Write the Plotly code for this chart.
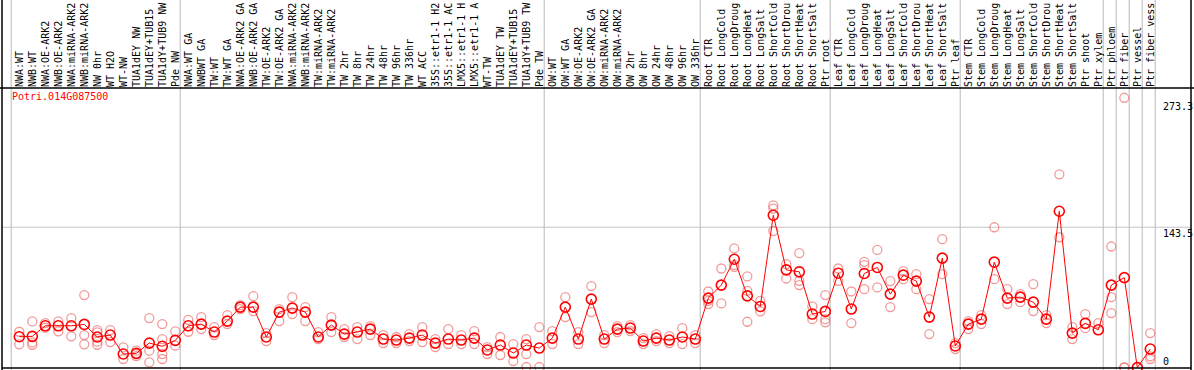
import plotly.graph_objects as go

labels = [
    "NWA:WT", "NWB:WT", "NWA:OE-ARK2", "NWB:OE-ARK2", "NWA:miRNA-ARK2", "NWB:miRNA-ARK2",
    "NW 0hr", "WT H2O", "WT-NW", "TUA1dEY NW", "TUA1dEY+TUB15", "TUA1dY+TUB9 NW", "Pde NW",
    "NWA:WT GA", "NWBWT GA", "TW:WT", "TW:WT GA", "NWA:OE-ARK2 GA", "NWB:OE-ARK2 GA",
    "TW:OE-ARK2", "TW:OE-ARK2 GA", "NWA:miRNA-ARK2", "NWB:miRNA-ARK2", "TW:miRNA-ARK2",
    "TW:miRNA-ARK2", "TW 2hr", "TW 8hr", "TW 24hr", "TW 48hr", "TW 96hr", "TW 336hr", "WT ACC",
    "35S::etr1-1 H2", "35S::etr1-1 AC", "LMX5::etr1-1 H", "LMX5::etr1-1 A", "WT-TW",
    "TUA1dEY TW", "TUA1dEY+TUB15", "TUA1dY+TUB9 TW", "Pde TW",
    "OW:WT", "OW:WT GA", "OW:OE-ARK2", "OW:OE-ARK2 GA", "OW:miRNA-ARK2", "OW:miRNA-ARK2",
    "OW 2hr", "OW 8hr", "OW 24hr", "OW 48hr", "OW 96hr", "OW 336hr",
    "Root CTR", "Root LongCold", "Root LongDroug", "Root LongHeat", "Root LongSalt",
    "Root ShortCold", "Root ShortDrou", "Root ShortHeat", "Root ShortSalt", "Ptr root",
    "Leaf CTR", "Leaf LongCold", "Leaf LongDroug", "Leaf LongHeat", "Leaf LongSalt",
    "Leaf ShortCold", "Leaf ShortDrou", "Leaf ShortHeat", "Leaf ShortSalt", "Ptr leaf",
    "Stem CTR", "Stem LongCold", "Stem LongDroug", "Stem LongHeat", "Stem LongSalt",
    "Stem ShortCold", "Stem ShortDrou", "Stem ShortHeat", "Stem ShortSalt", "Ptr shoot",
    "Ptr xylem", "Ptr phloem", "Ptr fiber", "Ptr vessel", "Ptr fiber vess",
]

group_sizes = [13, 28, 12, 10, 10, 11, 1, 1, 1, 1]

mean_values = [
    31.5, 31.9, 42.7, 42.7, 42.7, 44.1, 31.2, 33.2, 13.8, 14.5, 25.0, 21.7, 27.8,
    42.7, 44.4, 36.3, 47.5, 61.8, 61.8, 31.2, 56.7, 60.8, 56.7, 31.2, 43.4, 34.2, 36.3,
    39.3, 29.1, 28.1, 30.1, 33.2, 25.0, 29.1, 28.1, 30.1, 17.9, 23.0, 14.8, 23.0, 19.9,
    30.1, 61.8, 29.1, 70.0, 29.1, 39.3, 40.4, 27.1, 30.1, 28.1, 31.2, 29.1,
    71.0, 84.3, 110.8, 73.3, 62.5, 155.8, 99.9, 97.9, 54.7, 57.4,
    96.5, 59.8, 96.2, 102.4, 75.1, 94.5, 88.4, 51.6, 111.9, 22.0,
    44.4, 49.5, 107.8, 71.0, 72.0, 66.9, 49.5, 159.9, 35.2, 45.2, 38.6,
    84.3, 92.0, 0.0, 18.9,
]

rep_1 = [
    36.6, 47.2, 45.5, 47.2, 50.6, 74.1, 38.3, 38.3, 20.6, 17.2, 50.6, 44.4, 37.0,
    48.8, 51.6, 41.4, 53.6, 63.8, 73.0, 35.2, 59.8, 72.0, 61.8, 36.3, 51.6, 39.3, 41.4,
    42.4, 33.2, 31.2, 34.2, 41.4, 29.1, 39.3, 33.2, 37.3, 20.9, 31.2, 24.0, 29.1, 41.4,
    37.3, 72.0, 36.3, 83.3, 33.2, 42.4, 43.4, 30.1, 34.2, 32.2, 40.3, 33.2,
    77.8, 101.3, 121.8, 93.2, 68.2, 166.0, 105.7, 117.0, 62.5, 74.1,
    101.3, 77.8, 108.1, 120.3, 88.4, 98.6, 95.5, 70.0, 131.3, 25.0,
    47.5, 53.6, 143.5, 80.2, 75.1, 85.3, 53.6, 197.7, 41.4, 54.7, 45.5,
    123.8, 276.0, 0.0, 35.2,
]

rep_2 = [
    23.7, 25.7, 40.7, 37.0, 31.9, 33.2, 36.0, 26.0, 8.7, 13.8, 17.2, 29.1, 22.3,
    36.6, 39.3, 33.2, 44.4, 59.8, 57.7, 27.1, 47.5, 54.7, 47.5, 29.1, 36.3, 31.2, 29.1,
    33.2, 25.0, 25.0, 27.1, 26.0, 20.9, 24.0, 24.0, 24.0, 13.8, 12.8, 6.6, 13.8, 0.5,
    24.0, 51.6, 24.0, 56.7, 25.0, 36.3, 37.3, 24.0, 27.1, 25.0, 24.0, 25.0,
    68.2, 65.6, 105.0, 78.5, 57.4, 162.6, 91.1, 88.7, 49.5, 49.5,
    88.7, 45.5, 104.7, 81.9, 61.8, 90.4, 80.2, 34.2, 95.5, 18.9,
    39.3, 44.4, 90.4, 64.9, 66.9, 57.7, 45.5, 133.3, 29.1, 40.3, None,
    72.0, 0.0, None, 11.4,
]

rep_3 = [
    None, 23.3, None, None, None, 23.7, 26.4, None, None, 11.7, 5.3, 13.8, None,
    None, None, None, None, None, None, None, None, None, None, None, None, None, None,
    None, None, None, None, None, None, None, None, None, None, None, None, 0.5, None,
    None, None, None, None, None, None, None, None, None, None, None, None,
    64.9, None, 103.0, 46.8, None, 139.7, None, 84.3, None, 46.2,
    None, None, 80.2, None, None, None, None, None, None, None,
    None, None, None, None, None, None, None, None, None, None, None,
    55.7, 0.0, None, 8.7,
]

rep_4 = [None] * 88
rep_4[6] = 23.3
rep_4[11] = 8.7

gene_id = "Potri.014G087500"
right_labels = ["273.3", "143.5", "0"]
right_label_values = [273.3, 143.5, 0.0]

x = list(range(len(labels)))
MONO = "DejaVu Sans Mono"
REP_COLOR = "rgba(238,120,120,0.75)"

fig = go.Figure()
for rep in (rep_1, rep_2, rep_3, rep_4):
    fig.add_trace(go.Scatter(
        x=x, y=rep, mode="markers", showlegend=False, hoverinfo="skip",
        marker=dict(symbol="circle-open", size=9, color=REP_COLOR,
                    line=dict(width=1.3, color=REP_COLOR)),
        cliponaxis=False,
    ))
fig.add_trace(go.Scatter(
    x=x, y=mean_values, mode="lines+markers", showlegend=False,
    line=dict(color="#ff0000", width=1),
    marker=dict(symbol="circle-open", size=10, color="#ff0000",
                line=dict(width=1.6, color="#ff0000")),
    cliponaxis=False,
))

# group separators
shapes = []
pos = 0
bounds = [0]
for g in group_sizes:
    pos += g
    bounds.append(pos)
for b in bounds:
    shapes.append(dict(type="line", xref="x", yref="paper", x0=b - 0.62, x1=b - 0.62,
                       y0=-0.01, y1=1.32, line=dict(color="#c4c4c4", width=1.2), layer="below"))
# horizontal grid at mid value
shapes.append(dict(type="line", xref="paper", yref="y", x0=0, x1=1, y0=143.5, y1=143.5,
                   line=dict(color="#c4c4c4", width=1.2), layer="below"))
# frame lines
shapes.append(dict(type="line", xref="paper", yref="paper", x0=-0.01, x1=1.01, y0=1, y1=1,
                   line=dict(color="black", width=1.5)))
shapes.append(dict(type="line", xref="paper", yref="paper", x0=0, x1=0, y0=-0.01, y1=1.32,
                   line=dict(color="black", width=1.5)))
shapes.append(dict(type="line", xref="paper", yref="paper", x0=1, x1=1, y0=-0.01, y1=1.32,
                   line=dict(color="black", width=1.5)))
shapes.append(dict(type="line", xref="paper", yref="paper", x0=0, x1=1, y0=0, y1=0,
                   line=dict(color="black", width=1.5)))

annotations = [dict(text=gene_id, xref="paper", yref="paper", x=0.0068, y=0.968,
                    xanchor="left", yanchor="middle", showarrow=False,
                    font=dict(family=MONO, size=10, color="#ff0000"))]
for t, v in zip(right_labels, right_label_values):
    annotations.append(dict(text=t, xref="paper", yref="y", x=0.9755, y=v,
                            xanchor="left", yanchor="top" if v > 0 else "bottom",
                            showarrow=False, borderpad=0,
                            font=dict(family=MONO, size=10, color="black")))

fig.update_layout(
    width=1194, height=370,
    margin=dict(l=2, r=3, t=88, b=2, autoexpand=False),
    paper_bgcolor="white", plot_bgcolor="white",
    shapes=shapes, annotations=annotations,
    xaxis=dict(range=[-1.33, 90.13], side="top", tickmode="array", tickvals=x,
               ticktext=labels, tickangle=-90, ticks="", showgrid=False, zeroline=False,
               showline=False, automargin=False,
               tickfont=dict(family=MONO, size=10, color="black")),
    yaxis=dict(range=[-0.5, 286], showticklabels=False, showgrid=False, zeroline=False,
               showline=False, ticks="", automargin=False),
)

fig.write_html(
    "out.html",
    config={"displayModeBar": False},
    post_script="document.body.style.margin='0';document.body.style.padding='0';"
                "document.body.style.overflow='hidden';",
)
